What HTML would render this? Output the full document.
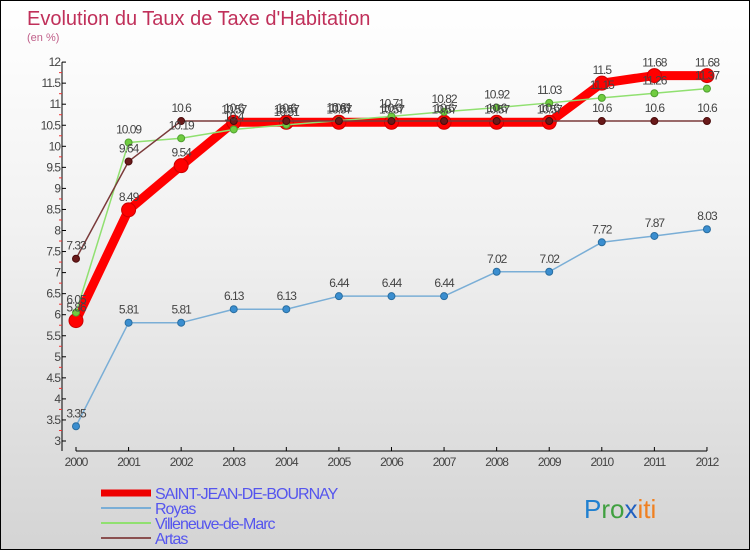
<!DOCTYPE html>
<html><head><meta charset="utf-8"><style>
body{margin:0}
#c{width:750px;height:550px;position:relative;overflow:hidden;box-sizing:border-box;border:1px solid #000;background:linear-gradient(#fff,#f2f2f2 40%,#d4d4d4)}
text{font-family:"Liberation Sans","DejaVu Sans",sans-serif}
</style></head><body>
<div id="c">
<svg id="s" width="750" height="550"></svg>
</div>
<script>
const years=["2000","2001","2002","2003","2004","2005","2006","2007","2008","2009","2010","2011","2012"];
const sjb=[5.86,8.49,9.54,10.57,10.57,10.57,10.57,10.57,10.57,10.57,11.5,11.68,11.68];
const royas=[3.35,5.81,5.81,6.13,6.13,6.44,6.44,6.44,7.02,7.02,7.72,7.87,8.03];
const vill=[6.05,10.09,10.19,10.4,10.51,10.61,10.71,10.82,10.92,11.03,11.15,11.26,11.37];
const artas=[7.33,9.64,10.6,10.6,10.6,10.6,10.6,10.6,10.6,10.6,10.6,10.6,10.6];
const yTicks=[3,3.5,4,4.5,5,5.5,6,6.5,7,7.5,8,8.5,9,9.5,10,10.5,11,11.5,12];
const NS="http://www.w3.org/2000/svg",s=document.getElementById('s');
const X=i=>75+i*52.58, Y=v=>440-(v-3)*42.1;
function el(t,a,txt){const e=document.createElementNS(NS,t);for(const k in a)e.setAttribute(k,a[k]);if(txt!==undefined)e.textContent=txt;s.appendChild(e);return e;}
let e;
e=el('text',{x:26,y:24,'font-size':20,fill:'#c0305a'},"Evolution du Taux de Taxe d'Habitation");


e=el('text',{x:26,y:40,'font-size':11,fill:'#c0608a'},"(en %)");


e=el('line',{x1:61,y1:Y(12),x2:61,y2:450,stroke:'#000'});


e=el('line',{x1:75,y1:450,x2:706,y2:450,stroke:'#000'});


yTicks.forEach(v=>{
 e=el('line',{x1:61,y1:Y(v),x2:65,y2:Y(v),stroke:'#000'});
 
 
 if(v<12){
 e=el('line',{x1:58,y1:Y(v+0.25),x2:61,y2:Y(v+0.25),stroke:'#e33'});
 
 
 }
 e=el('text',{x:59,y:Y(v)+4,'font-size':12,fill:'#444','text-anchor':'end','letter-spacing':'-1'},String(v));
 
 
});
years.forEach((y,i)=>{
 e=el('line',{x1:X(i),y1:446,x2:X(i),y2:450,stroke:'#000'});
 
 
 e=el('text',{x:X(i),y:465,'font-size':12,fill:'#444','text-anchor':'middle','letter-spacing':'-1'},y);
 
 
});
function series(d,col,w,r,dotFill,stroke,name){
 e=el('polyline',{points:d.map((v,i)=>X(i)+','+Y(v)).join(' '),fill:'none',stroke:col,'stroke-width':w,'stroke-linejoin':'round'});
 
 
 d.forEach((v,i)=>{
  e=el('circle',{cx:X(i),cy:Y(v),r:r,fill:dotFill,stroke:stroke,'stroke-width':1});
  
  
 });
}
function labels(d,name){
 d.forEach((v,i)=>{
  e=el('text',{x:X(i),y:Y(v)-9,'font-size':12,fill:'#444','text-anchor':'middle','letter-spacing':'-1'},String(v));
  
  
 });
}
series(royas,'#7aaed6',1.5,3.5,'#3a8ed0','#2a6ea0','royas');
series(sjb,'#ff0000',9,7,'#ff0000','#cc0000','saint-jean-de-bournay');
series(vill,'#90e070',1.5,3.5,'#70cc40','#50a030','villeneuve-de-marc');
series(artas,'#7a3a3a',1.5,3.5,'#6a1a1a','#4a0a0a','artas');
labels(royas,'royas');labels(sjb,'saint-jean-de-bournay');labels(vill,'villeneuve-de-marc');labels(artas,'artas');
const leg=[["SAINT-JEAN-DE-BOURNAY","#ee0000",7],["Royas","#7aaed6",2],["Villeneuve-de-Marc","#90e070",2],["Artas","#8a5050",2]];
leg.forEach((l,i)=>{
 const y=492+i*15;
 e=el('line',{x1:100,y1:y,x2:150,y2:y,stroke:l[1],'stroke-width':l[2]});
 
 
 e=el('text',{x:154,y:y+6,'font-size':16,fill:'#5555ee','letter-spacing':'-1'},l[0]);
 
 
});
e=el('text',{x:583,y:517,'font-size':26},'');


[["P","#2080d0"],["ro","#40a040"],["x","#2060c0"],["iti","#f08020"]].forEach(p=>{const t=document.createElementNS(NS,'tspan');t.setAttribute('fill',p[1]);t.textContent=p[0];e.appendChild(t);});
</script>
</body></html>
